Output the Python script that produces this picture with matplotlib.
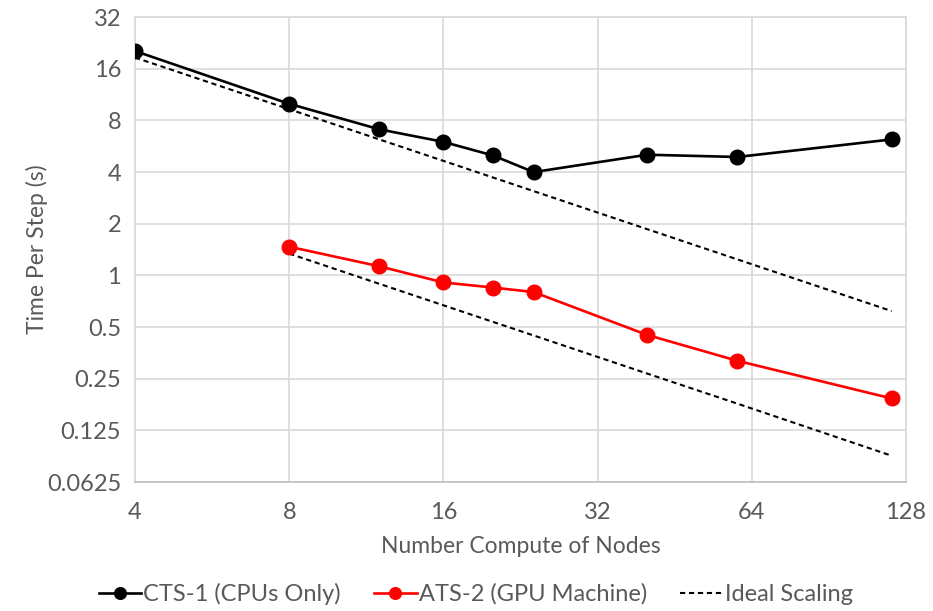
import matplotlib
matplotlib.use('Agg')
import matplotlib.pyplot as plt
from matplotlib.ticker import FixedLocator, FixedFormatter, NullLocator

plt.rcParams['font.family'] = ['Lato', 'DejaVu Sans']

# Data
nodes_cts = [4, 8, 12, 16, 20, 24, 40, 60, 120]
time_cts = [20.3, 10.0, 7.1, 6.0, 5.0, 4.0, 5.05, 4.9, 6.2]

nodes_ats = [8, 12, 16, 20, 24, 40, 60, 120]
time_ats = [1.47, 1.13, 0.91, 0.85, 0.80, 0.45, 0.318, 0.192]

ideal_cts = [18.6, 9.3, 6.2, 4.65, 3.72, 3.1, 1.86, 1.24, 0.62]
ideal_ats = [1.34, 0.893, 0.67, 0.536, 0.447, 0.268, 0.179, 0.089]

x_ticks = [4, 8, 16, 32, 64, 128]
x_labels = ['4', '8', '16', '32', '64', '128']
y_ticks = [0.0625, 0.125, 0.25, 0.5, 1, 2, 4, 8, 16, 32]
y_labels = ['0.0625', '0.125', '0.25', '0.5', '1', '2', '4', '8', '16', '32']

fig = plt.figure(figsize=(9.33, 6.11), dpi=100)
ax = fig.add_axes([0.1447, 0.211, 0.8263, 0.761])

ax.plot(nodes_cts, time_cts, color='black', lw=1.9, marker='o', markersize=10.5,
        label='CTS-1 (CPUs Only)', zorder=4)
ax.plot(nodes_ats, time_ats, color='#ff0000', lw=1.9, marker='o', markersize=10.5,
        label='ATS-2 (GPU Machine)', zorder=4)
ax.plot(nodes_cts, ideal_cts, color='black', lw=1.5, ls=(0, (2.5, 1.8)),
        label='Ideal Scaling', zorder=3)
ax.plot(nodes_ats, ideal_ats, color='black', lw=1.5, ls=(0, (2.5, 1.8)), zorder=3)

ax.set_xscale('log', base=2)
ax.set_yscale('log', base=2)
ax.set_xlim(4, 128)
ax.set_ylim(0.0625, 32)

ax.xaxis.set_major_locator(FixedLocator(x_ticks))
ax.xaxis.set_major_formatter(FixedFormatter(x_labels))
ax.xaxis.set_minor_locator(NullLocator())
ax.yaxis.set_major_locator(FixedLocator(y_ticks))
ax.yaxis.set_major_formatter(FixedFormatter(y_labels))
ax.yaxis.set_minor_locator(NullLocator())

ax.grid(True, color='#d9d9d9', lw=1.2)
ax.set_axisbelow(True)
for side in ['top', 'right', 'left', 'bottom']:
    ax.spines[side].set_color('#d9d9d9')
    ax.spines[side].set_linewidth(1.2)
ax.spines['bottom'].set_color('#bfbfbf')

ax.tick_params(axis='both', length=0, labelsize=17, colors='#595959')
ax.tick_params(axis='x', pad=14)
ax.tick_params(axis='y', pad=10)

ax.set_xlabel('Number Compute of Nodes', fontsize=16.5, color='#595959', labelpad=10)
ax.set_ylabel('Time Per Step (s)', fontsize=16.5, color='#595959')
ax.yaxis.set_label_coords(-0.113, 0.5)

fig.legend(loc='lower center', bbox_to_anchor=(0.51, -0.025), ncol=3, frameon=False,
           fontsize=17, handlelength=1.8, handletextpad=0.1, columnspacing=1.4,
           labelcolor='#595959', markerscale=0.8)

fig.savefig('out.png', dpi=100)
